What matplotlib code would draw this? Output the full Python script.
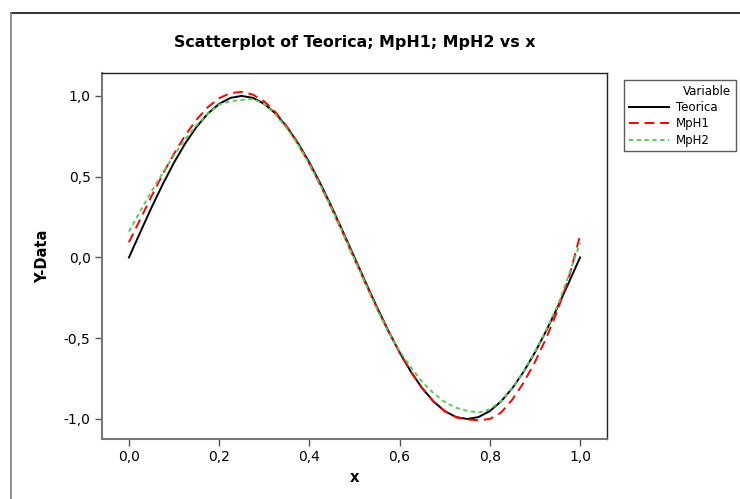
import matplotlib
matplotlib.use("Agg")
from matplotlib import pyplot as plt
from matplotlib.lines import Line2D

# values, x step 0.025
x = [0.000, 0.025, 0.050, 0.075, 0.100, 0.125, 0.150, 0.175, 0.200, 0.225,
     0.250, 0.275, 0.300, 0.325, 0.350, 0.375, 0.400, 0.425, 0.450, 0.475,
     0.500, 0.525, 0.550, 0.575, 0.600, 0.625, 0.650, 0.675, 0.700, 0.725,
     0.750, 0.775, 0.800, 0.825, 0.850, 0.875, 0.900, 0.925, 0.950, 0.975,
     1.000]
teorica = [0.000, 0.156, 0.309, 0.454, 0.588, 0.707, 0.809, 0.891, 0.951, 0.988,
           1.000, 0.988, 0.951, 0.891, 0.809, 0.707, 0.588, 0.454, 0.309, 0.156,
           0.000, -0.156, -0.309, -0.454, -0.588, -0.707, -0.809, -0.891, -0.951, -0.988,
           -1.000, -0.988, -0.951, -0.891, -0.809, -0.707, -0.588, -0.454, -0.309, -0.156,
           0.000]
mph1 = [0.094, 0.236, 0.379, 0.516, 0.643, 0.757, 0.854, 0.931, 0.986, 1.018,
        1.025, 1.008, 0.966, 0.899, 0.809, 0.702, 0.580, 0.445, 0.299, 0.146,
        -0.010, -0.164, -0.314, -0.456, -0.588, -0.707, -0.809, -0.891, -0.952, -0.990,
        -1.003, -1.008, -1.000, -0.960, -0.880, -0.775, -0.648, -0.500, -0.330, -0.128,
        0.135]
mph2 = [0.160, 0.286, 0.409, 0.524, 0.633, 0.732, 0.819, 0.891, 0.946, 0.968,
        0.976, 0.980, 0.951, 0.885, 0.800, 0.698, 0.578, 0.444, 0.300, 0.148,
        -0.010, -0.165, -0.320, -0.460, -0.580, -0.680, -0.770, -0.840, -0.895, -0.930,
        -0.950, -0.960, -0.940, -0.890, -0.810, -0.705, -0.585, -0.450, -0.300, -0.110,
        0.090]

xticks = [0.0, 0.2, 0.4, 0.6, 0.8, 1.0]
yticks = [-1.0, -0.5, 0.0, 0.5, 1.0]

plt.rcParams['font.family'] = ['DejaVu Sans']

fig = plt.figure(figsize=(7.40, 4.99), dpi=100)
ax = fig.add_axes([0.1374, 0.1202, 0.6833, 0.7335])

ax.plot(x, teorica, color='black', lw=1.4, label='Teorica')
ax.plot(x, mph1, color='#ff0000', lw=1.4, dashes=(5, 3), label='MpH1')
ax.plot(x, mph2, color='#5cc85c', lw=1.4, dashes=(2.2, 1.8), label='MpH2')

ax.set_xlim(-0.0605, 1.0605)
ax.set_ylim(-1.124, 1.142)
ax.set_xticks(xticks)
ax.set_yticks(yticks)
ax.set_xticklabels([f"{t:.1f}".replace('.', ',') for t in xticks])
ax.set_yticklabels([f"{t:.1f}".replace('.', ',') for t in yticks])
ax.tick_params(direction='out', length=5, width=1, color='#555555',
               labelsize=10, pad=3)

for side in ['left', 'bottom']:
    ax.spines[side].set_color('#777777')
    ax.spines[side].set_linewidth(1.5)
for side in ['top', 'right']:
    ax.spines[side].set_color('#222222')
    ax.spines[side].set_linewidth(1.0)

ax.set_title('Scatterplot of Teorica; MpH1; MpH2 vs x', fontsize=11.4,
             fontweight='bold', pad=19)
ax.set_xlabel('x', fontsize=10.5, fontweight='bold', labelpad=4)
ax.set_ylabel('Y-Data', fontsize=10.5, fontweight='bold', labelpad=10)

leg = ax.legend(title='Variable', loc='upper left',
                bbox_to_anchor=(624 / 740, 1 - 150 / 499, 112 / 740, 70 / 499),
                bbox_transform=fig.transFigure, mode='expand',
                fontsize=8.5, title_fontsize=8.5, frameon=True, fancybox=False,
                handlelength=3.4, handletextpad=0.6, borderpad=0.4,
                labelspacing=0.28, borderaxespad=0, alignment='right')
leg.get_frame().set_edgecolor('#333333')
leg.get_frame().set_linewidth(1.0)

# outer frame of the graph window
fig.add_artist(Line2D([11 / 740, 1], [1 - 13 / 499, 1 - 13 / 499],
                      color='#222222', lw=1.3, transform=fig.transFigure))
fig.add_artist(Line2D([11 / 740, 11 / 740], [0, 1 - 13 / 499],
                      color='#888888', lw=1.3, transform=fig.transFigure))

fig.savefig('out.png', dpi=100)
plt.close()
